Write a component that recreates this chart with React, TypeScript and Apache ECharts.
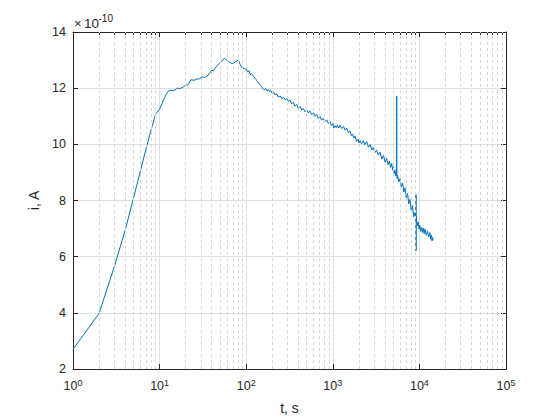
import React, { useEffect, useRef } from "react";
import * as echarts from "echarts";

// time in seconds
const tSec: number[] = [
  1, 2, 3, 4, 5, 6, 7, 8, 9, 10, 11, 12, 13, 14, 15, 16, 17, 19, 20, 21, 22, 23, 25, 27, 29, 31, 33, 36, 38, 40, 42, 44, 46, 49, 52, 56, 58, 60, 63, 66, 69, 72, 76, 81, 85, 89, 95,
  101, 104, 108, 112, 115, 121, 126, 130, 134, 138, 142, 147, 152, 157, 162, 168, 174, 180, 186, 192, 199, 206, 215, 225, 235, 246, 258, 270, 282, 295, 307, 320, 335, 350, 366, 383, 400, 420, 438, 456, 478, 500, 522, 545, 572, 600, 626, 652, 680, 710, 744, 777, 812, 850, 890, 928, 965,
  1000, 1030, 1060, 1095, 1130, 1170, 1211, 1270, 1330, 1390, 1447, 1510, 1580, 1640, 1700, 1750, 1803, 1880, 1969, 2010, 2060, 2150, 2250, 2350, 2461, 2580, 2700, 2820, 2936, 3060, 3200, 3350, 3507, 3680, 3850, 4020, 4191, 4350, 4500, 4640, 4785, 4900, 5000, 5110, 5226, 5330, 5400,
  5460, 5470, 5480, 5540, 5600, 5780, 5970, 6180, 6400, 6610, 6822, 7050, 7300, 7540, 7787, 8030, 8300, 8600, 8895, 9120, 9130, 9140, 9150, 9400, 9710, 9900,
  10100, 10370, 10640, 10870, 11100, 11350, 11610, 12000, 12400, 12800, 13250, 13500, 13800, 14000, 14250, 14300,
];

// current in units of 1e-10 A
const iCur: number[] = [
  2.7, 3.98, 5.65, 6.93, 8.09, 9.05, 9.86, 10.53, 11.08, 11.25, 11.55, 11.8, 11.93, 11.92, 11.93, 12.0, 11.98, 12.05, 12.12, 12.1, 12.2, 12.3, 12.28, 12.33, 12.33, 12.4, 12.38, 12.45, 12.55, 12.64, 12.62, 12.72, 12.8, 12.88, 12.95, 13.07, 13.02, 13.0, 12.94, 12.9, 12.88, 12.9, 12.95, 13.0, 12.85, 12.72, 12.7,
  12.66, 12.58, 12.62, 12.48, 12.52, 12.43, 12.36, 12.3, 12.26, 12.2, 12.14, 12.1, 12.02, 11.98, 11.93, 11.99, 11.9, 11.95, 11.88, 11.92, 11.82, 11.86, 11.76, 11.8, 11.68, 11.72, 11.62, 11.68, 11.58, 11.64, 11.52, 11.58, 11.44, 11.5, 11.36, 11.42, 11.28, 11.35, 11.22, 11.28, 11.16, 11.23, 11.12, 11.19, 11.06, 11.12, 11.0, 11.06, 10.92, 10.99, 10.86, 10.93, 10.8, 10.87, 10.74, 10.82, 10.66,
  10.74, 10.58, 10.66, 10.6, 10.69, 10.58, 10.68, 10.56, 10.64, 10.5, 10.58, 10.42, 10.48, 10.3, 10.36, 10.22, 10.3, 10.1, 10.18, 10.05, 10.14, 10.02, 10.13, 9.99, 10.1, 9.9, 9.99, 9.8, 9.89, 9.7, 9.8, 9.62, 9.72, 9.48, 9.6, 9.36, 9.5, 9.28, 9.4, 9.18, 9.32, 9.08, 9.2, 8.96, 9.08, 8.88, 9.0,
  8.92, 11.72, 8.94, 8.78, 8.9, 8.66, 8.78, 8.48, 8.62, 8.3, 8.45, 8.1, 8.25, 7.88, 8.04, 7.66, 7.82, 7.42, 7.58, 7.4, 8.21, 6.21, 7.44, 7.1, 7.24, 6.98,
  7.12, 6.9, 7.04, 6.86, 7.02, 6.82, 6.98, 6.76, 6.92, 6.7, 6.86, 6.62, 6.76, 6.56, 6.68, 6.58,
];

const majorX: number[] = [1, 10, 100, 1000, 10000, 100000];
const minorX: number[] = [
  2, 3, 4, 5, 6, 7, 8, 9,
  20, 30, 40, 50, 60, 70, 80, 90,
  200, 300, 400, 500, 600, 700, 800, 900,
  2000, 3000, 4000, 5000, 6000, 7000, 8000, 9000,
  20000, 30000, 40000, 50000, 60000, 70000, 80000, 90000,
];
const yTicks: number[] = [2, 4, 6, 8, 10, 12, 14];

const FONT = '"Liberation Sans", Arial, Helvetica, sans-serif';
const AX = "#262626";
const GRID = "#dfdfdf";

export default function App() {
  const ref = useRef<HTMLDivElement>(null);
  useEffect(() => {
    if (!ref.current) return;
    const chart = echarts.init(ref.current, undefined, { renderer: "svg" });
    const data = tSec.map((t, k) => [t, iCur[k]]);
    const baseLog = {
      type: "log" as const,
      logBase: 10,
      min: 1,
      max: 100000,
      gridIndex: 0,
    };
    chart.setOption({
      animation: false,
      backgroundColor: "#ffffff",
      textStyle: { fontFamily: FONT },
      grid: { left: 73, right: 54, top: 32, bottom: 47, containLabel: false },
      xAxis: [
        {
          ...baseLog,
          position: "bottom",
          axisLine: { show: true, lineStyle: { color: AX, width: 1 } },
          axisTick: { show: true, inside: true, length: 5, lineStyle: { color: AX } },
          minorTick: { show: false },
          splitLine: { show: true, lineStyle: { color: GRID, width: 1 } },
          axisLabel: {
            show: true,
            margin: 9,
            color: AX,
            fontFamily: FONT,
            customValues: majorX,
            formatter: (v: number) => `{b|10}{s|${Math.round(Math.log10(v))}}`,
            rich: {
              b: { fontSize: 12.5, color: AX, fontFamily: FONT },
              s: { fontSize: 9, color: AX, fontFamily: FONT, padding: [0, 0, 6, 0] },
            },
          },
          name: "t, s",
          nameLocation: "middle",
          nameGap: 32,
          nameTextStyle: { fontSize: 14, color: AX, fontFamily: FONT },
        },
        {
          ...baseLog,
          position: "top",
          axisLine: { show: true, lineStyle: { color: AX, width: 1 } },
          axisTick: { show: true, inside: true, length: 5, lineStyle: { color: AX } },
          splitLine: { show: false },
          axisLabel: { show: false },
        },
        {
          ...baseLog,
          position: "bottom",
          axisLine: { show: false },
          axisTick: { show: true, inside: true, length: 3, customValues: minorX, lineStyle: { color: AX } },
          splitLine: { show: false },
          axisLabel: { show: false },
        },
        {
          ...baseLog,
          position: "top",
          axisLine: { show: false },
          axisTick: { show: true, inside: true, length: 3, customValues: minorX, lineStyle: { color: AX } },
          splitLine: { show: false },
          axisLabel: { show: false },
        },
      ],
      yAxis: [
        {
          type: "value",
          min: 2,
          max: 14,
          interval: 2,
          position: "left",
          axisLine: { show: true, lineStyle: { color: AX, width: 1 } },
          axisTick: { show: true, inside: true, length: 5, lineStyle: { color: AX } },
          splitLine: { show: true, lineStyle: { color: GRID, width: 1 } },
          axisLabel: {
            color: AX,
            fontSize: 12.5,
            fontFamily: FONT,
            margin: 7,
            padding: [4, 0, 0, 0],
            customValues: yTicks,
          },
          name: "i, A",
          nameLocation: "middle",
          nameGap: 28,
          nameRotate: 90,
          nameTextStyle: { fontSize: 14, color: AX, fontFamily: FONT },
        },
        {
          type: "value",
          min: 2,
          max: 14,
          interval: 2,
          position: "right",
          axisLine: { show: true, lineStyle: { color: AX, width: 1 } },
          axisTick: { show: true, inside: true, length: 5, lineStyle: { color: AX } },
          splitLine: { show: false },
          axisLabel: { show: false },
        },
      ],
      graphic: [
        {
          type: "text",
          x: 74,
          y: 23,
          style: { text: "×", fontSize: 13, fill: AX, fontFamily: FONT, verticalAlign: "middle" },
        },
        {
          type: "text",
          x: 84,
          y: 23,
          style: { text: "10", fontSize: 13.5, fill: AX, fontFamily: FONT, verticalAlign: "middle" },
        },
        {
          type: "text",
          x: 98.5,
          y: 18,
          style: { text: "-10", fontSize: 10, fill: AX, fontFamily: FONT, verticalAlign: "middle" },
        },
      ],
      series: [
        {
          type: "line",
          xAxisIndex: 0,
          yAxisIndex: 0,
          data: [],
          z: 1,
          silent: true,
          markLine: {
            silent: true,
            symbol: ["none", "none"],
            label: { show: false },
            lineStyle: { color: "#d6d6d6", type: [3, 3], width: 1 },
            data: minorX.map((v) => ({ xAxis: v })),
          },
        },
        {
          type: "line",
          xAxisIndex: 0,
          yAxisIndex: 0,
          data,
          z: 3,
          showSymbol: false,
          symbol: "none",
          lineStyle: { color: "#0072BD", width: 1 },
          itemStyle: { color: "#0072BD" },
        },
      ],
    });
    return () => chart.dispose();
  }, []);
  return (
    <div
      ref={ref}
      style={{ position: "fixed", left: 0, top: 0, width: 560, height: 420, background: "#fff" }}
    />
  );
}
